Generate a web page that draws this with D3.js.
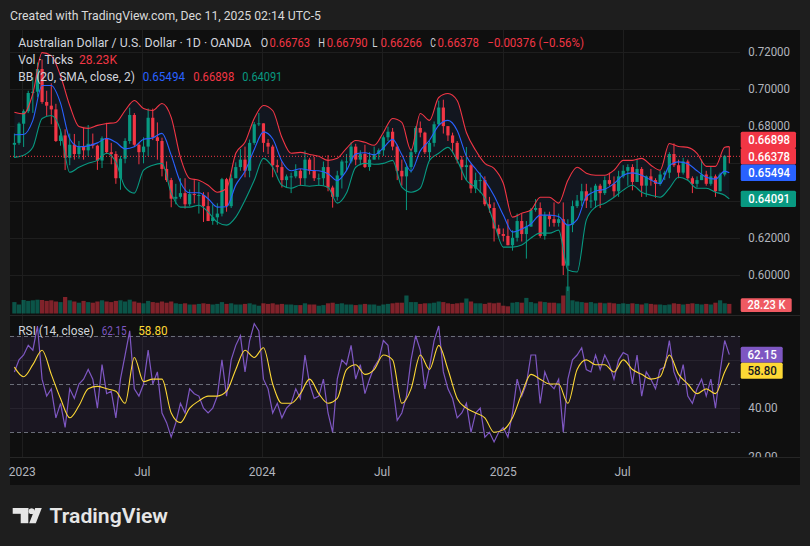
<!DOCTYPE html>
<html>
<head>
<meta charset="utf-8">
<script src="https://cdn.jsdelivr.net/npm/d3@7/dist/d3.min.js"></script>
<style>
  body { margin: 0; background: #1e1e1e; }
  text { font-family: Roboto, "Noto Sans", sans-serif; }
</style>
</head>
<body>
<div id="chart"></div>
<script>
// weekly candles, first week starts Mon 19 Dec 2022
var firstWeek = new Date(2022, 11, 19);

var open = [
  0.6700,0.6710,0.6813,0.6880,0.6978,0.6985,0.7107,0.6930,0.6910,0.6890,
  0.6720,0.6750,0.6630,0.6700,0.6650,0.6690,0.6670,0.6705,0.6695,0.6615,
  0.6735,0.6660,0.6650,0.6520,0.6625,0.6720,0.6860,0.6700,0.6660,0.6690,
  0.6845,0.6740,0.6720,0.6570,0.6510,0.6410,0.6420,0.6440,0.6380,0.6435,
  0.6430,0.6430,0.6370,0.6290,0.6310,0.6330,0.6515,0.6370,0.6520,0.6580,
  0.6620,0.6560,0.6710,0.6810,0.6815,0.6710,0.6690,0.6590,0.6580,0.6510,
  0.6530,0.6530,0.6560,0.6520,0.6620,0.6560,0.6520,0.6520,0.6580,0.6470,
  0.6420,0.6535,0.6610,0.6610,0.6690,0.6620,0.6650,0.6580,0.6620,0.6650,
  0.6670,0.6740,0.6770,0.6690,0.6560,0.6530,0.6580,0.6660,0.6790,0.6765,
  0.6660,0.6710,0.6810,0.6900,0.6800,0.6750,0.6710,0.6620,0.6580,0.6590,
  0.6465,0.6510,0.6510,0.6380,0.6360,0.6250,0.6220,0.6210,0.6160,0.6200,
  0.6290,0.6220,0.6260,0.6350,0.6360,0.6210,0.6320,0.6300,0.6280,0.6300,
  0.6050,0.6270,0.6370,0.6400,0.6450,0.6400,0.6400,0.6480,0.6440,0.6510,
  0.6490,0.6450,0.6530,0.6560,0.6580,0.6500,0.6570,0.6480,0.6530,0.6510,
  0.6490,0.6540,0.6550,0.6650,0.6590,0.6550,0.6610,0.6520,0.6490,0.6510,
  0.6540,0.6490,0.6530,0.6450,0.6540,0.6640];
var high = [
  0.6760,0.6820,0.6890,0.6990,0.7063,0.7142,0.7158,0.6990,0.7030,0.6920,
  0.6783,0.6783,0.6760,0.6758,0.6720,0.6793,0.6806,0.6760,0.6700,0.6745,
  0.6818,0.6710,0.6665,0.6640,0.6735,0.6899,0.6870,0.6710,0.6740,0.6895,
  0.6894,0.6820,0.6738,0.6610,0.6522,0.6490,0.6520,0.6520,0.6460,0.6510,
  0.6500,0.6445,0.6445,0.6380,0.6385,0.6522,0.6522,0.6540,0.6605,0.6677,
  0.6690,0.6728,0.6822,0.6871,0.6815,0.6730,0.6700,0.6620,0.6610,0.6540,
  0.6550,0.6595,0.6570,0.6668,0.6630,0.6635,0.6545,0.6610,0.6644,0.6480,
  0.6560,0.6620,0.6650,0.6714,0.6705,0.6670,0.6700,0.6660,0.6690,0.6680,
  0.6750,0.6798,0.6790,0.6700,0.6620,0.6600,0.6680,0.6800,0.6825,0.6770,
  0.6720,0.6825,0.6937,0.6942,0.6800,0.6765,0.6720,0.6640,0.6688,0.6600,
  0.6550,0.6550,0.6530,0.6420,0.6390,0.6270,0.6250,0.6300,0.6240,0.6330,
  0.6330,0.6290,0.6360,0.6408,0.6390,0.6340,0.6340,0.6390,0.6330,0.6390,
  0.6300,0.6400,0.6430,0.6490,0.6490,0.6470,0.6490,0.6490,0.6530,0.6550,
  0.6530,0.6560,0.6590,0.6595,0.6595,0.6625,0.6580,0.6535,0.6570,0.6520,
  0.6560,0.6560,0.6660,0.6707,0.6620,0.6630,0.6620,0.6530,0.6530,0.6620,
  0.6560,0.6580,0.6540,0.6550,0.6645,0.6690];
var low = [
  0.6630,0.6700,0.6688,0.6870,0.6871,0.6955,0.6920,0.6855,0.6810,0.6715,
  0.6695,0.6564,0.6590,0.6620,0.6625,0.6620,0.6640,0.6680,0.6565,0.6575,
  0.6650,0.6595,0.6490,0.6458,0.6600,0.6705,0.6690,0.6595,0.6600,0.6640,
  0.6725,0.6620,0.6530,0.6500,0.6364,0.6380,0.6410,0.6357,0.6370,0.6385,
  0.6330,0.6285,0.6290,0.6270,0.6270,0.6315,0.6340,0.6360,0.6520,0.6560,
  0.6525,0.6525,0.6700,0.6800,0.6660,0.6650,0.6525,0.6550,0.6470,0.6470,
  0.6440,0.6520,0.6480,0.6480,0.6540,0.6505,0.6480,0.6480,0.6450,0.6362,
  0.6400,0.6465,0.6560,0.6600,0.6590,0.6590,0.6575,0.6560,0.6620,0.6620,
  0.6640,0.6720,0.6670,0.6510,0.6480,0.6349,0.6550,0.6650,0.6740,0.6650,
  0.6620,0.6690,0.6800,0.6760,0.6720,0.6660,0.6600,0.6510,0.6510,0.6440,
  0.6440,0.6440,0.6370,0.6335,0.6180,0.6200,0.6180,0.6160,0.6131,0.6180,
  0.6180,0.6088,0.6260,0.6340,0.6200,0.6190,0.6260,0.6260,0.6260,0.6000,
  0.5914,0.6230,0.6360,0.6370,0.6360,0.6360,0.6360,0.6360,0.6430,0.6480,
  0.6420,0.6420,0.6520,0.6480,0.6455,0.6500,0.6420,0.6420,0.6480,0.6415,
  0.6480,0.6510,0.6520,0.6580,0.6520,0.6540,0.6510,0.6440,0.6470,0.6510,
  0.6480,0.6480,0.6420,0.6450,0.6530,0.6600];
var close = [
  0.6710,0.6813,0.6880,0.6978,0.6985,0.7107,0.6930,0.6910,0.6890,0.6720,
  0.6750,0.6630,0.6700,0.6650,0.6690,0.6670,0.6705,0.6695,0.6615,0.6735,
  0.6660,0.6650,0.6520,0.6625,0.6720,0.6860,0.6700,0.6660,0.6690,0.6845,
  0.6740,0.6720,0.6570,0.6510,0.6410,0.6420,0.6440,0.6380,0.6435,0.6430,
  0.6430,0.6370,0.6290,0.6310,0.6330,0.6515,0.6370,0.6520,0.6580,0.6620,
  0.6560,0.6710,0.6810,0.6815,0.6710,0.6690,0.6590,0.6580,0.6510,0.6530,
  0.6530,0.6560,0.6520,0.6620,0.6560,0.6520,0.6520,0.6580,0.6470,0.6420,
  0.6535,0.6610,0.6610,0.6690,0.6620,0.6650,0.6580,0.6620,0.6650,0.6670,
  0.6740,0.6770,0.6690,0.6560,0.6530,0.6580,0.6660,0.6790,0.6765,0.6660,
  0.6710,0.6810,0.6900,0.6800,0.6750,0.6710,0.6620,0.6580,0.6590,0.6465,
  0.6510,0.6510,0.6380,0.6360,0.6250,0.6220,0.6210,0.6160,0.6200,0.6290,
  0.6220,0.6260,0.6350,0.6360,0.6210,0.6320,0.6300,0.6280,0.6300,0.6050,
  0.6270,0.6370,0.6400,0.6450,0.6400,0.6400,0.6480,0.6440,0.6510,0.6490,
  0.6450,0.6530,0.6560,0.6580,0.6500,0.6570,0.6480,0.6530,0.6510,0.6490,
  0.6540,0.6550,0.6650,0.6590,0.6550,0.6610,0.6520,0.6490,0.6510,0.6540,
  0.6490,0.6530,0.6450,0.6540,0.6640,0.66378];
// tick volume, thousands (daily average of the week)
var volume = [
  38,30,45,42,44,46,45,42,44,40,
  38,55,44,40,36,42,38,36,40,44,
  40,38,42,44,40,46,40,36,34,42,
  38,36,40,36,40,34,32,34,30,30,
  32,34,32,30,32,38,32,34,30,30,
  32,34,30,26,34,32,34,30,32,30,
  30,28,28,34,30,30,26,28,34,36,
  32,34,30,30,28,30,32,30,30,26,
  30,32,34,36,36,60,38,38,32,34,
  34,36,40,38,34,32,34,36,50,40,
  34,34,32,36,34,36,26,24,36,38,
  36,52,38,34,40,38,36,36,34,60,
  90,44,40,38,36,38,34,36,34,36,
  34,32,34,32,34,32,30,34,32,30,
  30,28,30,34,32,30,32,34,32,30,
  32,30,36,44,34,32];
var lastVolume = '28.23 K';

// Bollinger bands, read every second week (last point = last week)
var bbUpper = [
  0.6875,0.6866,0.6975,0.7195,0.7179,0.7071,0.6911,0.6798,0.6788,0.6804,
  0.6814,0.6820,0.6884,0.6938,0.6895,0.6884,0.6922,0.6847,0.6632,0.6519,
  0.6509,0.6482,0.6445,0.6466,0.6654,0.6713,0.6841,0.6911,0.6884,0.6739,
  0.6654,0.6659,0.6648,0.6638,0.6616,0.6627,0.6681,0.6723,0.6713,0.6697,
  0.6766,0.6841,0.6820,0.6670,0.6868,0.6831,0.6954,0.6975,0.6938,0.6766,
  0.6670,0.6600,0.6573,0.6493,0.6311,0.6332,0.6349,0.6418,0.6418,0.6386,
  0.6509,0.6579,0.6547,0.6536,0.6536,0.6563,0.6616,0.6616,0.6627,0.6590,
  0.6563,0.6707,0.6691,0.6686,0.6654,0.6584,0.6584,0.6686,0.66898];
var bbMid = [
  0.6754,0.6755,0.6831,0.7018,0.7018,0.6924,0.6732,0.6689,0.6694,0.6710,
  0.6734,0.6713,0.6678,0.6689,0.6729,0.6737,0.6761,0.6644,0.6499,0.6442,
  0.6442,0.6410,0.6365,0.6367,0.6483,0.6558,0.6675,0.6769,0.6732,0.6611,
  0.6560,0.6571,0.6563,0.6560,0.6544,0.6507,0.6561,0.6651,0.6657,0.6646,
  0.6683,0.6729,0.6646,0.6558,0.6667,0.6724,0.6804,0.6831,0.6777,0.6638,
  0.6571,0.6507,0.6426,0.6322,0.6231,0.6247,0.6274,0.6322,0.6322,0.6314,
  0.6268,0.6298,0.6421,0.6451,0.6461,0.6491,0.6536,0.6549,0.6536,0.6510,
  0.6491,0.6587,0.6608,0.6598,0.6560,0.6525,0.6515,0.6558,0.65494];
var bbLower = [
  0.6632,0.6643,0.6686,0.6841,0.6857,0.6777,0.6552,0.6579,0.6600,0.6616,
  0.6654,0.6606,0.6472,0.6440,0.6563,0.6590,0.6600,0.6440,0.6365,0.6365,
  0.6375,0.6338,0.6284,0.6268,0.6311,0.6402,0.6509,0.6627,0.6579,0.6482,
  0.6466,0.6482,0.6477,0.6482,0.6472,0.6386,0.6440,0.6579,0.6600,0.6595,
  0.6600,0.6616,0.6472,0.6445,0.6466,0.6616,0.6654,0.6686,0.6616,0.6509,
  0.6472,0.6413,0.6279,0.6150,0.6150,0.6161,0.6199,0.6225,0.6225,0.6241,
  0.6027,0.6016,0.6295,0.6365,0.6386,0.6418,0.6456,0.6482,0.6445,0.6429,
  0.6418,0.6466,0.6525,0.6509,0.6466,0.6466,0.6445,0.6429,0.64091];

// RSI (14) weekly, and its moving average every second week
var rsi = [
  55,60,62,66,64,74,52,45,48,36,
  42,32,48,44,50,52,56,52,40,58,
  46,47,36,52,62,72,48,45,50,64,
  50,55,38,34,28,34,42,38,48,46,
  45,40,38,40,45,60,45,60,66,70,
  55,68,75,72,52,48,38,42,36,40,
  42,48,44,62,50,44,45,52,38,30,
  52,60,58,66,52,58,46,52,57,60,
  68,66,50,35,38,45,60,70,64,48,
  57,68,74,55,48,44,36,38,42,30,
  38,40,28,30,26,30,32,28,38,52,
  45,50,62,62,42,55,50,48,52,30,
  52,60,62,65,56,55,62,56,62,58,
  52,60,63,62,50,62,45,55,52,48,
  56,57,68,55,50,58,45,42,48,52,
  45,52,40,55,68,62.15];
var rsiMa = [
  57,53,58,64,54,44,36,41,48,49,
  48,47,42,61,51,52,52,38,34,40,
  43,45,45,47,56,64,61,65,50,42,
  42,46,52,46,42,44,56,58,54,56,
  62,60,42,48,62,56,66,56,44,40,
  38,36,30,31,36,46,54,52,50,50,
  42,56,60,58,58,55,60,56,54,52,
  53,62,54,50,46,48,46,55,58.80];

var priceTicks = [0.60, 0.62, 0.64, 0.66, 0.68, 0.70, 0.72];
var rsiGrid = [40, 60];
var rsiDashed = [30, 50, 70];
var rsiTicks = [20, 40];
var timeTicks = [new Date(2023, 0, 2), new Date(2023, 6, 3), new Date(2024, 0, 1),
                 new Date(2024, 6, 1), new Date(2025, 0, 1), new Date(2025, 6, 1)];
var timeLabels = ['2023', 'Jul', '2024', 'Jul', '2025', 'Jul'];

var RED = '#f23645', GREEN = '#089981', BLUE = '#2962ff', GRAY = '#d1d4dc', AXIS = '#b2b5be';

var svg = d3.select('#chart').append('svg')
    .attr('width', 810)
    .attr('height', 546);

svg.append('rect').attr('width', 810).attr('height', 546).attr('fill', '#1e1e1e');
svg.append('rect').attr('x', 10).attr('y', 30).attr('width', 790).attr('height', 455)
    .attr('fill', '#0f0f0f');

var x = d3.scaleTime()
    .domain([new Date(2023, 0, 2), new Date(2025, 0, 1)])
    .range([22.3, 503.3]);
var y = d3.scaleLinear().domain([0.60, 0.72]).range([275, 51.7]);
var yVol = d3.scaleLinear().domain([0, 100]).range([313.5, 283.5]);
var yRsi = d3.scaleLinear().domain([30, 70]).range([432.3, 335.7]);

function wx(i) { return x(d3.timeDay.offset(firstWeek, i * 7 + 2)); }
function bandWeek(k) { return k < bbUpper.length - 1 ? k * 2 : close.length - 1; }

var defs = svg.append('defs');
defs.append('clipPath').attr('id', 'mainClip').append('rect')
    .attr('x', 10).attr('y', 30).attr('width', 730).attr('height', 285);
defs.append('clipPath').attr('id', 'rsiClip').append('rect')
    .attr('x', 10).attr('y', 316).attr('width', 730).attr('height', 141);
defs.append('clipPath').attr('id', 'rsiAxisClip').append('rect')
    .attr('x', 740).attr('y', 316).attr('width', 60).attr('height', 141);

// ---- text helper
function txt(g, xx, yy, str, color, size, len, weight) {
  var t = g.append('text')
      .attr('x', xx).attr('y', yy)
      .attr('fill', color)
      .attr('font-size', size)
      .text(str);
  if (weight) t.attr('font-weight', weight);
  if (len) t.attr('textLength', len).attr('lengthAdjust', 'spacingAndGlyphs');
  return t;
}

// grid
var grid = svg.append('g').attr('stroke', '#1e1e1e').attr('stroke-width', 1);
grid.selectAll('.hg').data(priceTicks).enter().append('line')
    .attr('x1', 10).attr('x2', 740)
    .attr('y1', function (d) { return Math.round(y(d)) + 0.5; })
    .attr('y2', function (d) { return Math.round(y(d)) + 0.5; });
grid.selectAll('.vg').data(timeTicks).enter().append('line')
    .attr('x1', function (d) { return Math.round(x(d)) + 0.5; })
    .attr('x2', function (d) { return Math.round(x(d)) + 0.5; })
    .attr('y1', 30).attr('y2', 457);
grid.selectAll('.rg').data(rsiGrid).enter().append('line')
    .attr('x1', 10).attr('x2', 740)
    .attr('y1', function (d) { return Math.round(yRsi(d)) + 0.5; })
    .attr('y2', function (d) { return Math.round(yRsi(d)) + 0.5; });

// pane borders
svg.append('line').attr('x1', 10).attr('x2', 800).attr('y1', 315.5).attr('y2', 315.5)
    .attr('stroke', '#262626');
svg.append('line').attr('x1', 10).attr('x2', 800).attr('y1', 457.5).attr('y2', 457.5)
    .attr('stroke', '#262626');

// ---- main pane
var main = svg.append('g').attr('clip-path', 'url(#mainClip)');

main.selectAll('.vol').data(volume).enter().append('rect')
    .attr('x', function (d, i) { return wx(i) - 2.1; })
    .attr('width', 4.2)
    .attr('y', function (d) { return yVol(d); })
    .attr('height', function (d) { return yVol(0) - yVol(d); })
    .attr('fill', function (d, i) { return close[i] >= open[i] ? 'rgba(8,153,129,0.5)' : 'rgba(242,54,69,0.5)'; });

var bandIdx = d3.range(bbUpper.length);
main.append('path')
    .datum(bandIdx)
    .attr('fill', '#12161f')
    .attr('d', d3.area()
        .x(function (k) { return wx(bandWeek(k)); })
        .y0(function (k) { return y(bbLower[k]); })
        .y1(function (k) { return y(bbUpper[k]); })
        .curve(d3.curveMonotoneX));

var candles = main.selectAll('.candle').data(close).enter().append('g')
    .attr('fill', function (d, i) { return d >= open[i] ? GREEN : RED; })
    .attr('stroke', function (d, i) { return d >= open[i] ? GREEN : RED; });
candles.append('line')
    .attr('x1', function (d, i) { return wx(i); })
    .attr('x2', function (d, i) { return wx(i); })
    .attr('y1', function (d, i) { return y(high[i]); })
    .attr('y2', function (d, i) { return y(low[i]); })
    .attr('stroke-width', 1);
candles.append('rect')
    .attr('stroke', 'none')
    .attr('x', function (d, i) { return wx(i) - 1.6; })
    .attr('width', 3.2)
    .attr('y', function (d, i) { return y(Math.max(d, open[i])); })
    .attr('height', function (d, i) { return Math.max(1, Math.abs(y(d) - y(open[i]))); });

function bandLine(arr, color) {
  main.append('path')
      .datum(bandIdx)
      .attr('fill', 'none')
      .attr('stroke', color)
      .attr('stroke-width', 1.1)
      .attr('d', d3.line()
          .x(function (k) { return wx(bandWeek(k)); })
          .y(function (k) { return y(arr[k]); })
          .curve(d3.curveMonotoneX));
}
bandLine(bbUpper, RED);
bandLine(bbMid, BLUE);
bandLine(bbLower, GREEN);

var lastClose = close[close.length - 1];
main.append('line')
    .attr('x1', 10).attr('x2', 740)
    .attr('y1', y(lastClose)).attr('y2', y(lastClose))
    .attr('stroke', RED).attr('stroke-dasharray', '1,2');

// legends
var leg = svg.append('g');
txt(leg, 18.3, 46.7, 'Australian Dollar / U.S. Dollar · 1D · OANDA', GRAY, 12.5, 233);
txt(leg, 260.7, 46.7, 'O', GRAY, 12.5, 7.4);
txt(leg, 269.6, 46.7, '0.66763', RED, 12.5, 40.4);
txt(leg, 318.3, 46.7, 'H', GRAY, 12.5, 6.7);
txt(leg, 326.7, 46.7, '0.66790', RED, 12.5, 41);
txt(leg, 372.3, 46.7, 'L', GRAY, 12.5, 5.2);
txt(leg, 380.5, 46.7, '0.66266', RED, 12.5, 41.5);
txt(leg, 430.2, 46.7, 'C', GRAY, 12.5, 5.6);
txt(leg, 437.6, 46.7, '0.66378', RED, 12.5, 41.4);
txt(leg, 487.3, 46.7, '\u22120.00376 (\u22120.56%)', RED, 12.5, 96.7);
txt(leg, 18.3, 63.5, 'Vol · Ticks', GRAY, 12.5, 55);
txt(leg, 79, 63.5, '28.23K', RED, 12.5, 38);
txt(leg, 18.3, 80.5, 'BB (20, SMA, close, 2)', GRAY, 12.5, 116.7);
txt(leg, 142.7, 80.5, bbMid[bbMid.length - 1].toFixed(5), BLUE, 12.5, 42.3);
txt(leg, 193.3, 80.5, bbUpper[bbUpper.length - 1].toFixed(5), RED, 12.5, 41);
txt(leg, 242.3, 80.5, bbLower[bbLower.length - 1].toFixed(5), GREEN, 12.5, 40);

// price scale
var labels = [
  { v: bbUpper[bbUpper.length - 1], c: RED },
  { v: lastClose, c: RED },
  { v: bbMid[bbMid.length - 1], c: BLUE },
  { v: bbLower[bbLower.length - 1], c: GREEN }];
var boxH = 16.4;
labels.forEach(function (d) { d.cy = y(d.v); });
labels[0].cy = Math.min(labels[0].cy, labels[1].cy - boxH);
labels[2].cy = Math.max(labels[2].cy, labels[1].cy + boxH);
labels[3].cy = Math.max(labels[3].cy, labels[2].cy + boxH);

var axisG = svg.append('g');
priceTicks.forEach(function (p) {
  var py = y(p);
  var hidden = labels.some(function (d) { return Math.abs(d.cy - py) < 13; });
  if (!hidden) txt(axisG, 748.3, py + 4.3, p.toFixed(5), AXIS, 12, 41.7);
});
labels.forEach(function (d) {
  axisG.append('rect').attr('x', 740.7).attr('y', d.cy - boxH / 2)
      .attr('width', 55.3).attr('height', boxH).attr('rx', 1.5).attr('fill', d.c);
  txt(axisG, 748.3, d.cy + 4.3, d.v.toFixed(5), '#ffffff', 12, 41.7, 500);
});
axisG.append('rect').attr('x', 740.7).attr('y', 298.3)
    .attr('width', 51).attr('height', 13.6).attr('rx', 1.5).attr('fill', '#ef5a62');
txt(axisG, 747.5, 309.3, lastVolume, '#ffffff', 12, 38, 500);

// ---- RSI pane
var rsiG = svg.append('g').attr('clip-path', 'url(#rsiClip)');
rsiG.append('rect')
    .attr('x', 10).attr('width', 730)
    .attr('y', yRsi(70)).attr('height', yRsi(30) - yRsi(70))
    .attr('fill', 'rgba(126,87,194,0.1)');
rsiG.selectAll('.rd').data(rsiDashed).enter().append('line')
    .attr('x1', 10).attr('x2', 740)
    .attr('y1', function (d) { return Math.round(yRsi(d)) + 0.5; })
    .attr('y2', function (d) { return Math.round(yRsi(d)) + 0.5; })
    .attr('stroke', '#6a6d78').attr('stroke-dasharray', '4,3');
rsiG.append('path')
    .datum(rsi)
    .attr('fill', 'none').attr('stroke', '#7e57c2').attr('stroke-width', 1.2)
    .attr('d', d3.line()
        .x(function (d, i) { return wx(i); })
        .y(function (d) { return yRsi(d); }));
rsiG.append('path')
    .datum(bandIdx)
    .attr('fill', 'none').attr('stroke', '#fdd835').attr('stroke-width', 1.1)
    .attr('d', d3.line()
        .x(function (k) { return wx(bandWeek(k)); })
        .y(function (k) { return yRsi(rsiMa[k]); })
        .curve(d3.curveMonotoneX));

var lastRsi = rsi[rsi.length - 1], lastMa = rsiMa[rsiMa.length - 1];
txt(svg, 18.3, 334.5, 'RSI (14, close)', GRAY, 12.5, 75.7);
txt(svg, 101.7, 334.5, lastRsi.toFixed(2), '#7e57c2', 12.5, 25);
txt(svg, 138.3, 334.5, lastMa.toFixed(2), '#fdd835', 12.5, 29.4);

var rsiAxis = svg.append('g').attr('clip-path', 'url(#rsiAxisClip)');
rsiTicks.forEach(function (r) {
  txt(rsiAxis, 748.3, yRsi(r) + 4.3, r.toFixed(2), AXIS, 12, 29.4);
});
var rsiCy = yRsi(lastRsi), maCy = Math.max(yRsi(lastMa), rsiCy + 16);
rsiAxis.append('rect').attr('x', 740.7).attr('y', rsiCy - 8).attr('width', 42)
    .attr('height', 16).attr('rx', 1.5).attr('fill', '#7e57c2');
txt(rsiAxis, 747.5, rsiCy + 4.3, lastRsi.toFixed(2), '#ffffff', 12, 29.4, 500);
rsiAxis.append('rect').attr('x', 740.7).attr('y', maCy - 8).attr('width', 42)
    .attr('height', 16).attr('rx', 1.5).attr('fill', '#fdd835');
txt(rsiAxis, 747.5, maCy + 4.3, lastMa.toFixed(2), '#131722', 12, 29.4, 500);

// ---- time axis
timeTicks.forEach(function (d, i) {
  txt(svg, x(d), 475.5, timeLabels[i], AXIS, 12)
      .attr('text-anchor', 'middle');
});

// ---- header and logo
txt(svg, 10, 19.5, 'Created with TradingView.com, Dec 11, 2025 02:14 UTC-5', '#d9d9d9', 13, 311);

var logo = svg.append('g').attr('fill', '#e6e6e6');
logo.append('rect').attr('x', 12.7).attr('y', 508).attr('width', 15.6).attr('height', 5.8);
logo.append('rect').attr('x', 20.7).attr('y', 508).attr('width', 7.6).attr('height', 15.2);
logo.append('circle').attr('cx', 31.6).attr('cy', 511.2).attr('r', 2.9);
logo.append('path').attr('d', 'M35.2,508 L41.8,508 L35.8,523.2 L29.2,523.2 Z');
txt(logo, 49.5, 523.3, 'TradingView', '#e6e6e6', 21, 118.5, 600);
</script>
</body>
</html>
